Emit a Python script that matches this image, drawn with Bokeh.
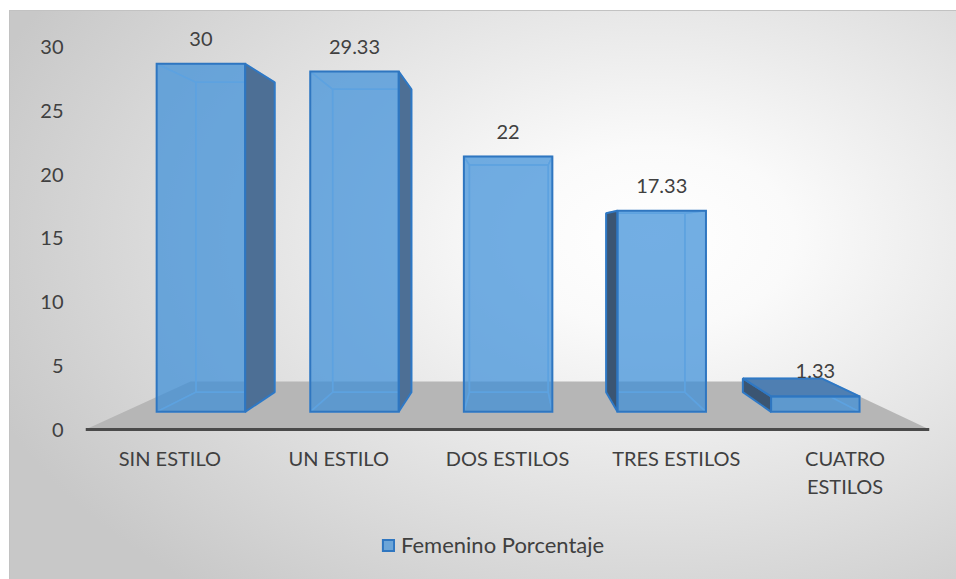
from bokeh.plotting import figure
from bokeh.models import Range1d, FixedTicker, Legend, LegendItem, ColumnDataSource
from bokeh.core.properties import value
from bokeh.embed import file_html
from bokeh.resources import INLINE

# ---------------- data ----------------
CATEGORIES = ["SIN ESTILO", "UN ESTILO", "DOS ESTILOS", "TRES ESTILOS", "CUATRO ESTILOS"]
CATEGORY_TICK_TEXT = ["SIN ESTILO", "UN ESTILO", "DOS ESTILOS", "TRES ESTILOS", "CUATRO\nESTILOS"]
VALUES = [30, 29.33, 22, 17.33, 1.33]
VALUE_LABELS = ["30", "29.33", "22", "17.33", "1.33"]
Y_TICKS = [0, 5, 10, 15, 20, 25, 30]
SERIES_NAME = "Femenino Porcentaje"

# ---------------- 3D look (perspective about a vanishing point) ----------------
VPX, VPY = 2.04, 15.4          # vanishing point in axis units (floor-front plane)
K_FRONT, K_BACK = 0.91, 0.81   # perspective scale of bar front / back faces
K_FLOOR_FRONT, K_FLOOR_BACK = 1.0, 0.755
HALF_W = 0.288
PX_PER_UNIT = 12.75

FONT = "Lato"
TEXT_COLOR = "#404040"
FS = "20px"


def proj(x, y, k):
    return VPX + (x - VPX) * k, VPY + (y - VPY) * k


def quad(pts):
    return [pt[0] for pt in pts], [pt[1] for pt in pts]


# frame: page x 85..929, page y 23..579 (canvas starts at page (9, 10))
p = figure(width=947, height=569, output_backend="svg", toolbar_location=None,
           x_range=Range1d(-0.5, 4.5),
           y_range=Range1d(-150 / PX_PER_UNIT, 406 / PX_PER_UNIT),
           min_border_left=76, min_border_right=27, min_border_top=13, min_border_bottom=0)
p.background_fill_color = None
p.border_fill_color = None
p.outline_line_color = None
p.grid.visible = False
p.styles = {
    "margin": "10px 0 0 9px",
    "background-image": "radial-gradient(ellipse 75% 80% at 68% 40%, #ffffff 0%, #fafafa 20%, #e4e4e4 55%, #c8c8c8 100%)",
    "box-shadow": "inset 1px 1px 0 #c2c2c2",
}

# floor
fx, fy = quad([proj(-0.5, 0, K_FLOOR_FRONT), proj(4.5, 0, K_FLOOR_FRONT),
               proj(4.5, 0, K_FLOOR_BACK), proj(-0.5, 0, K_FLOOR_BACK)])
p.patch(fx, fy, fill_color="#b6b6b6", line_color=None)

inner_xs, inner_ys = [], []
side_l_xs, side_l_ys = [], []
side_r_xs, side_r_ys = [], []
top_xs, top_ys = [], []
front_xs, front_ys = [], []
lab_x, lab_y = [], []

for i, v in enumerate(VALUES):
    x0, x1, y0, y1 = i - HALF_W, i + HALF_W, 0.0, float(v)
    F = lambda x, y: proj(x, y, K_FRONT)
    B = lambda x, y: proj(x, y, K_BACK)
    back = [B(x0, y0), B(x1, y0), B(x1, y1), B(x0, y1)]
    left = [F(x0, y0), F(x0, y1), B(x0, y1), B(x0, y0)]
    right = [F(x1, y0), F(x1, y1), B(x1, y1), B(x1, y0)]
    top = [F(x0, y1), F(x1, y1), B(x1, y1), B(x0, y1)]
    bottom = [F(x0, y0), F(x1, y0), B(x1, y0), B(x0, y0)]
    front = [F(x0, y0), F(x1, y0), F(x1, y1), F(x0, y1)]
    for face in (back, left, right, top, bottom):
        a, b = quad(face)
        inner_xs.append(a); inner_ys.append(b)
    if VPX < x0:
        a, b = quad(left); side_l_xs.append(a); side_l_ys.append(b)
    if VPX > x1:
        a, b = quad(right); side_r_xs.append(a); side_r_ys.append(b)
    if VPY > y1:
        a, b = quad(top); top_xs.append(a); top_ys.append(b)
    a, b = quad(front)
    front_xs.append(a); front_ys.append(b)
    cx, cy = F(i, y1)
    lab_x.append(cx); lab_y.append(cy)

p.patches(inner_xs, inner_ys, fill_color="#5b9bd5", fill_alpha=0.12,
          line_color="#a9cdf0", line_width=1.5, line_alpha=0.9)
if side_l_xs:
    p.patches(side_l_xs, side_l_ys, fill_color="#3b5572", line_color="#2f78c4", line_width=2)
if side_r_xs:
    p.patches(side_r_xs, side_r_ys, fill_color="#4d6f95", line_color="#2f78c4", line_width=2)
if top_xs:
    p.patches(top_xs, top_ys, fill_color="#4f7fb2", line_color="#2f78c4", line_width=2)
front_r = p.patches(front_xs, front_ys, fill_color="#3a8ed9", fill_alpha=0.68,
                    line_color="#2f76c0", line_width=2, line_join="miter")

src = ColumnDataSource(dict(x=lab_x, y=lab_y, t=VALUE_LABELS))
p.text("x", "y", text="t", source=src, text_align="center", text_baseline="middle",
       y_offset=-25, text_font=value(FONT), text_font_size=FS, text_color=TEXT_COLOR)

# axes
xa = p.xaxis[0]
xa.fixed_location = 0
xa.ticker = FixedTicker(ticks=list(range(len(CATEGORIES))))
xa.major_label_overrides = {i: t for i, t in enumerate(CATEGORY_TICK_TEXT)}
xa.axis_line_color = "#4a4a4a"
xa.axis_line_width = 3
xa.major_tick_line_color = None
xa.minor_tick_line_color = None
xa.major_label_standoff = 10
xa.major_label_text_font = FONT
xa.major_label_text_font_size = FS
xa.major_label_text_color = TEXT_COLOR

ya = p.yaxis[0]
ya.ticker = FixedTicker(ticks=Y_TICKS)
ya.axis_line_color = None
ya.major_tick_line_color = None
ya.minor_tick_line_color = None
ya.major_label_standoff = 16
ya.major_label_text_font = FONT
ya.major_label_text_font_size = FS
ya.major_label_text_color = TEXT_COLOR

legend = Legend(items=[LegendItem(label=SERIES_NAME, renderers=[front_r])],
                location=(296, 21), background_fill_alpha=0, border_line_color=None,
                padding=0, margin=0, glyph_width=14, glyph_height=14, label_height=20,
                label_standoff=6, label_text_font=FONT, label_text_font_size="22px",
                label_text_color=TEXT_COLOR)
p.add_layout(legend)

open("out.html", "w").write(file_html(p, INLINE))
